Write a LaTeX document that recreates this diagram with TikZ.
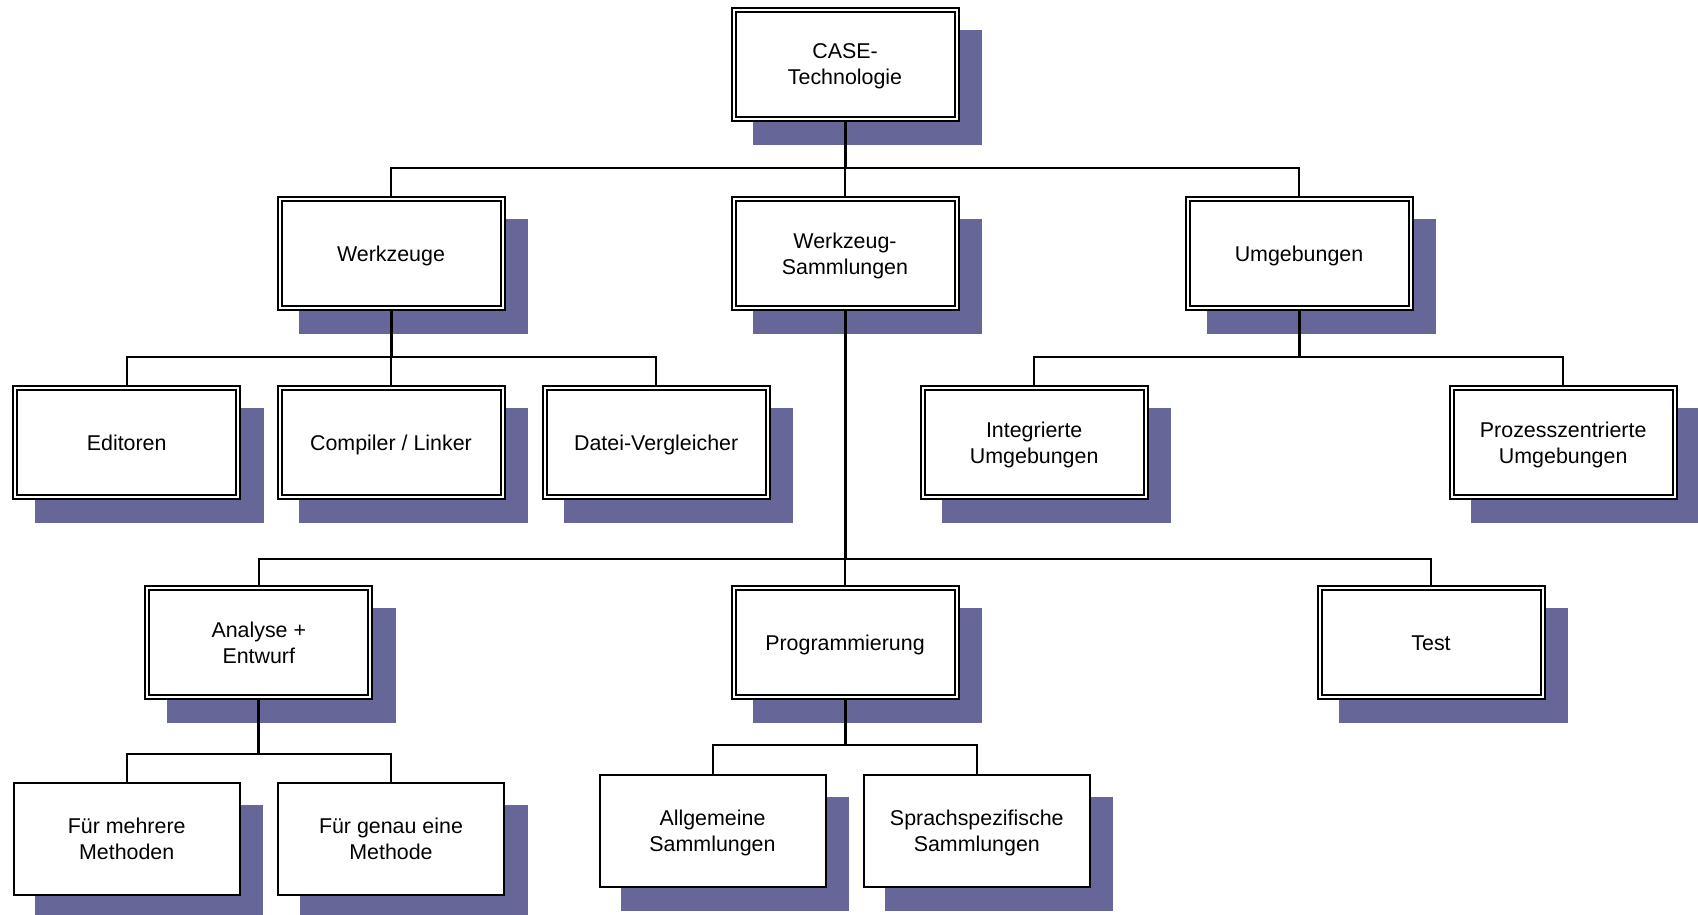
\documentclass[tikz,border=0pt]{standalone}
\usepackage{fontspec}
\setmainfont{Liberation Sans}
\usetikzlibrary{calc}
\definecolor{shadowfill}{RGB}{102,102,153}
\pgfdeclarelayer{shadowlayer}
\pgfdeclarelayer{edgelayer}
\pgfsetlayers{shadowlayer,edgelayer,main}
\begin{document}
\begin{tikzpicture}[x=1pt,y=-1pt,
  boxtext/.style={font=\fontsize{21.4}{26}\selectfont, align=center, fill=white, inner sep=0pt,
    text depth=0pt},
  dblbox/.style={boxtext, draw=black, line width=2pt, double=white, double distance=2pt,
    minimum width=223pt, minimum height=109pt, outer sep=3pt},
  leafbox/.style={boxtext, draw=black, line width=2pt,
    minimum width=226pt, minimum height=112pt, outer sep=1pt},
  trunk/.style={line width=3pt},
  branch/.style={line width=2pt}]
\useasboundingbox (0,0) rectangle (1698,915);

% level 0
\node[dblbox] (case) at (845,64.4) {CASE-\\Technologie};
% level 1
\node[dblbox] (wz)   at (391,253.4)  {Werkzeuge};
\node[dblbox] (ws)   at (845,253.4)  {Werkzeug-\\Sammlungen};
\node[dblbox] (umg)  at (1299,253.4) {Umgebungen};
% level 2
\node[dblbox] (edit) at (126.7,442.4)  {Editoren};
\node[dblbox] (comp) at (391,442.4)    {Compiler / Linker};
\node[dblbox] (diff) at (656.2,442.4)  {Datei-Vergleicher};
\node[dblbox] (intg) at (1034.2,442.4) {Integrierte\\Umgebungen};
\node[dblbox] (proz) at (1563.2,442.4) {Prozesszentrierte\\Umgebungen};
% level 3 (collections)
\node[dblbox] (ana)  at (258.8,642.7) {Analyse +\\Entwurf};
\node[dblbox] (prog) at (845,642.7)   {Programmierung};
\node[dblbox] (test) at (1431,642.7)  {Test};
% level 4
\node[leafbox] (mehr) at (126.7,838.7) {Für mehrere\\Methoden};
\node[leafbox] (eine) at (391,838.7)   {Für genau eine\\Methode};
\node[leafbox] (allg) at (712.5,831.1) {Allgemeine\\Sammlungen};
\node[leafbox] (spra) at (976.8,831.1) {Sprachspezifische\\Sammlungen};

% drop shadows behind every box
\begin{pgfonlayer}{shadowlayer}
\foreach \n in {case,wz,ws,umg,edit,comp,diff,intg,proz,ana,prog,test,mehr,eine,allg,spra}
  \fill[shadowfill] ([shift={(22.5,23)}]\n.south west) rectangle ([shift={(22.5,23)}]\n.north east);
\end{pgfonlayer}

% tree connectors
\begin{pgfonlayer}{edgelayer}
\coordinate (bus0) at ($(case.center)+(0,103.4)$);
\draw[trunk] (case.center) -- (bus0);
\foreach \c in {wz,ws,umg} \draw[branch] (bus0) -| (\c.center);

\coordinate (bus1) at ($(wz.center)+(0,104)$);
\draw[trunk] (wz.center) -- (bus1);
\foreach \c in {edit,comp,diff} \draw[branch] (bus1) -| (\c.center);

\coordinate (bus2) at ($(umg.center)+(0,104)$);
\draw[trunk] (umg.center) -- (bus2);
\foreach \c in {intg,proz} \draw[branch] (bus2) -| (\c.center);

\coordinate (bus3) at ($(ws.center)+(0,305.4)$);
\draw[trunk] (ws.center) -- (bus3);
\foreach \c in {ana,prog,test} \draw[branch] (bus3) -| (\c.center);

\coordinate (bus4) at ($(ana.center)+(0,111)$);
\draw[trunk] (ana.center) -- (bus4);
\foreach \c in {mehr,eine} \draw[branch] (bus4) -| (\c.center);

\coordinate (bus5) at ($(prog.center)+(0,102.3)$);
\draw[trunk] (prog.center) -- (bus5);
\foreach \c in {allg,spra} \draw[branch] (bus5) -| (\c.center);
\end{pgfonlayer}
\end{tikzpicture}
\end{document}
